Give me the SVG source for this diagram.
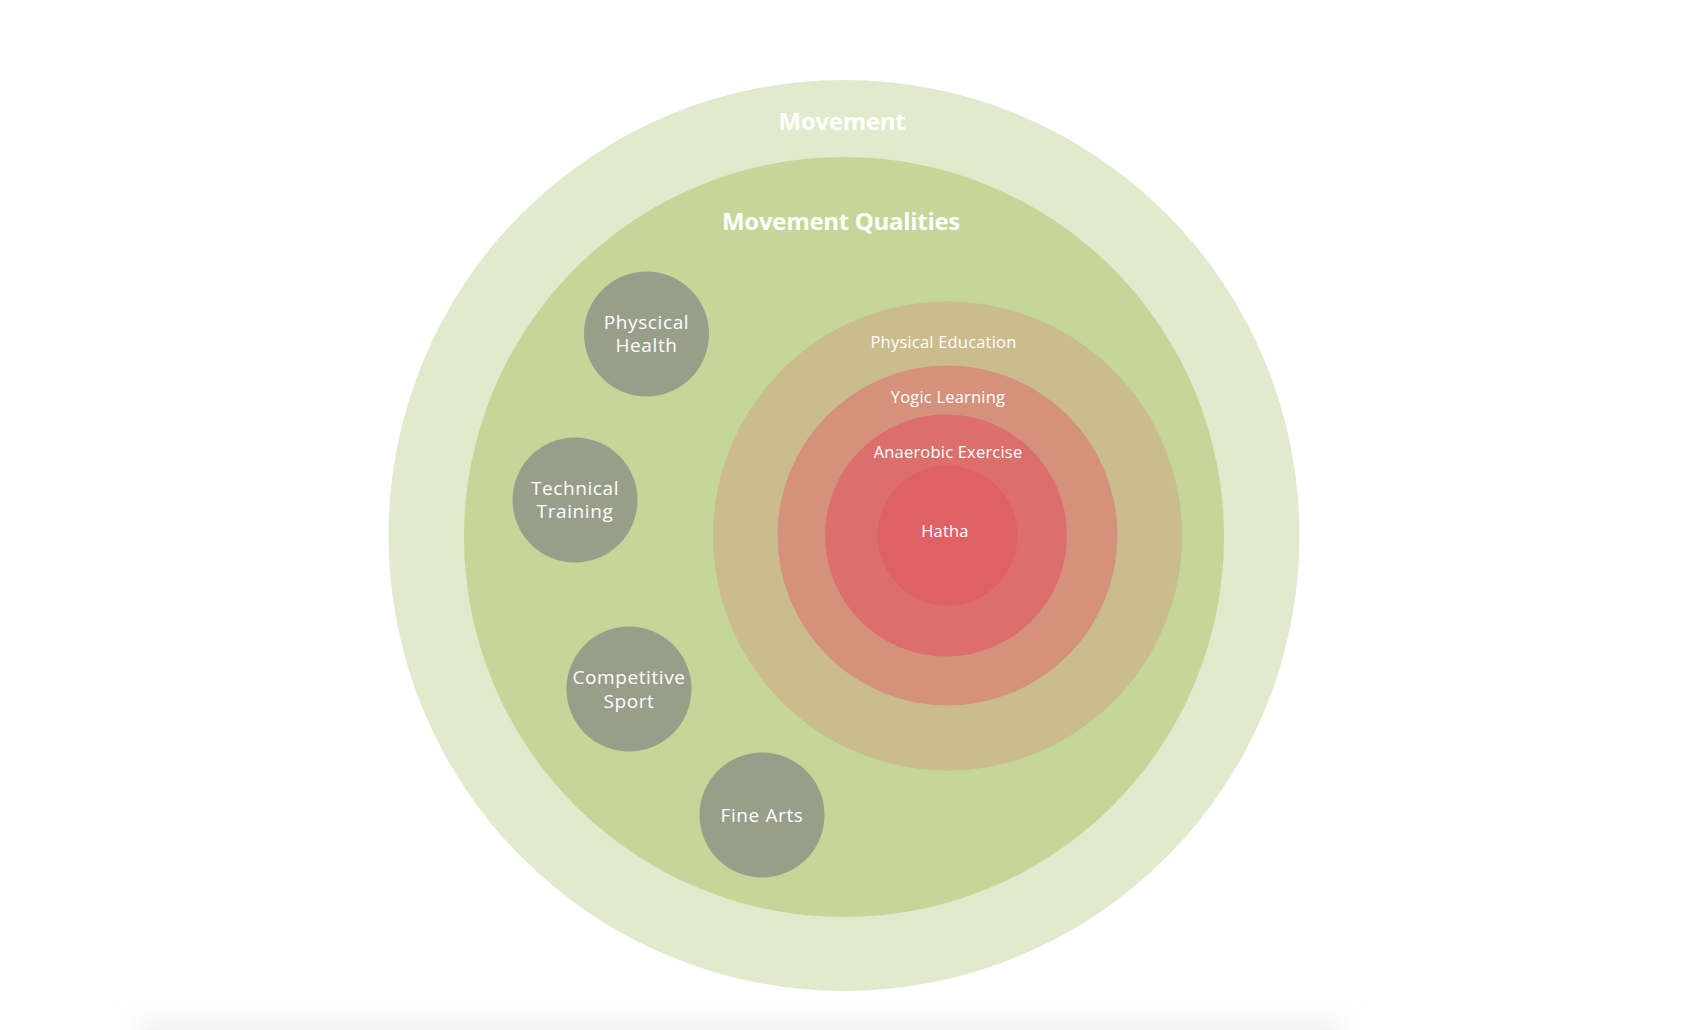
<svg xmlns="http://www.w3.org/2000/svg" width="1692" height="1030" viewBox="0 0 1692 1030">
<style>
  text { font-family: "Open Sans", "Noto Sans", "Liberation Sans", sans-serif; fill: #ffffff; text-anchor: middle; }
  .title { font-weight: 700; font-size: 24px; letter-spacing: -0.3px; }
  .ring { font-size: 16.5px; letter-spacing: 0.2px; }
  .bubble { fill: #999E8A; }
  .blabel { font-size: 19px; letter-spacing: 0.6px; }
</style>
<defs>
  <filter id="blur" x="-20%" y="-200%" width="140%" height="500%">
    <feGaussianBlur stdDeviation="14"/>
  </filter>
</defs>
<rect width="1692" height="1030" fill="#ffffff"/>
<rect x="140" y="1022" width="1200" height="40" fill="#eeeeee" filter="url(#blur)"/>

<g id="movement">
  <circle cx="844" cy="535.5" r="455.5" fill="#E1EACC"/>
  <text class="title" x="842" y="130">Movement</text>
</g>
<g id="movement-qualities">
  <circle cx="844" cy="537" r="380" fill="#C4D798"/>
  <text class="title" x="841" y="230">Movement Qualities</text>
</g>

<g id="physical-education">
  <circle cx="947.5" cy="536" r="234.5" fill="#CABC8D"/>
  <text class="ring" x="943.5" y="347.5">Physical Education</text>
</g>
<g id="yogic-learning">
  <circle cx="947.5" cy="535.5" r="170" fill="#D4927C"/>
  <text class="ring" x="948" y="402.5">Yogic Learning</text>
</g>
<g id="anaerobic-exercise">
  <circle cx="946" cy="535.5" r="121" fill="#DC6F6B"/>
  <text class="ring" x="948" y="457.5">Anaerobic Exercise</text>
</g>
<g id="hatha">
  <circle cx="947.5" cy="535.5" r="70" fill="#DF6166"/>
  <text class="ring" x="945" y="536.5">Hatha</text>
</g>

<g id="physical-health">
  <circle class="bubble" cx="646.5" cy="334" r="62.5"/>
  <text class="blabel" x="646.5" y="328.5">Physcical<tspan x="646.5" dy="23.5">Health</tspan></text>
</g>
<g id="technical-training">
  <circle class="bubble" cx="575" cy="500" r="62.5"/>
  <text class="blabel" x="575" y="494.5">Technical<tspan x="575" dy="23.5">Training</tspan></text>
</g>
<g id="competitive-sport">
  <circle class="bubble" cx="629" cy="689" r="62.5"/>
  <text class="blabel" x="629" y="684">Competitive<tspan x="629" dy="23.5">Sport</tspan></text>
</g>
<g id="fine-arts">
  <circle class="bubble" cx="762" cy="815" r="62.5"/>
  <text class="blabel" x="762" y="822">Fine Arts</text>
</g>

<g id="connectors"></g>
</svg>
